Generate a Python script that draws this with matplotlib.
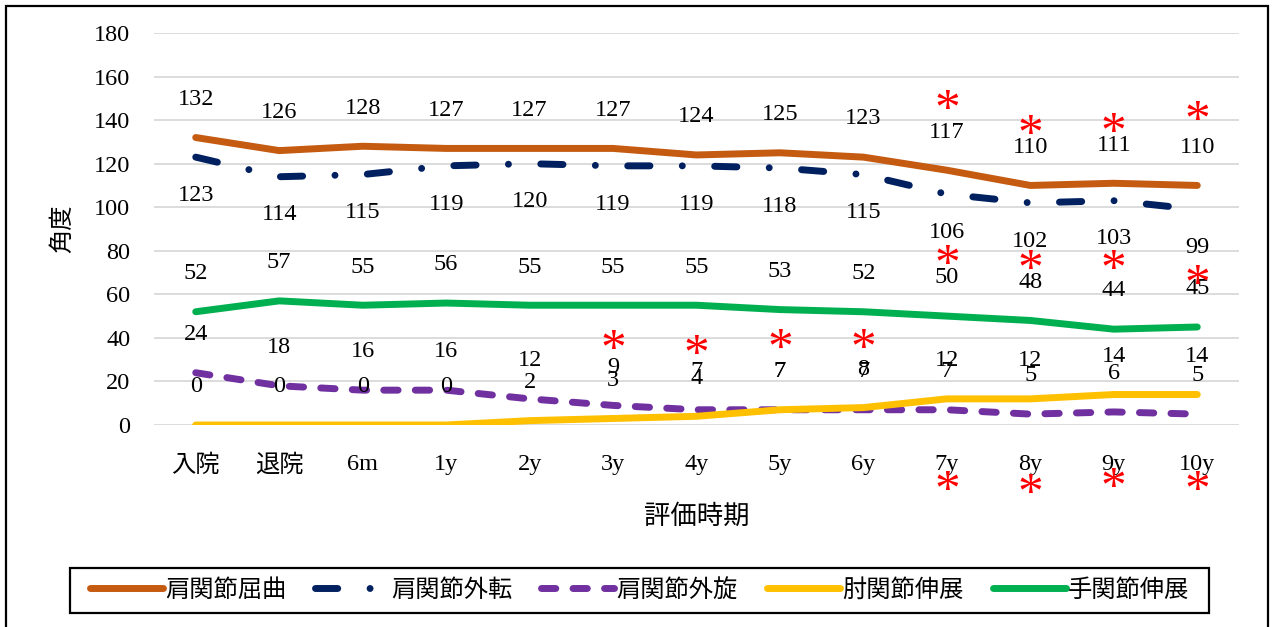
import matplotlib
matplotlib.use("Agg")
import matplotlib.pyplot as plt
from matplotlib.patches import Rectangle

plt.rcParams["font.family"] = ["Liberation Serif", "Noto Sans CJK JP"]
plt.rcParams["lines.scale_dashes"] = False

# Evaluation periods and range-of-motion values (degrees)
periods = ["入院", "退院", "6m", "1y", "2y", "3y", "4y", "5y", "6y", "7y", "8y", "9y", "10y"]
shoulder_flexion = [132, 126, 128, 127, 127, 127, 124, 125, 123, 117, 110, 111, 110]
shoulder_abduction = [123, 114, 115, 119, 120, 119, 119, 118, 115, 106, 102, 103, 99]
shoulder_ext_rotation = [24, 18, 16, 16, 12, 9, 7, 7, 7, 7, 5, 6, 5]
elbow_extension = [0, 0, 0, 0, 2, 3, 4, 7, 8, 12, 12, 14, 14]
wrist_extension = [52, 57, 55, 56, 55, 55, 55, 53, 52, 50, 48, 44, 45]

series_names = ["肩関節屈曲", "肩関節外転", "肩関節外旋", "肘関節伸展", "手関節伸展"]

# Periods flagged with a significance asterisk
sig_flexion = ["7y", "8y", "9y", "10y"]
sig_wrist = ["7y", "8y", "9y", "10y"]
sig_ext_rotation = ["3y", "4y", "5y", "6y"]
sig_axis = ["7y", "8y", "9y", "10y"]

W, H = 1273, 627
fig = plt.figure(figsize=(W / 100, H / 100), dpi=100)
ax = fig.add_axes([154 / W, 1 - 425 / H, (1239 - 154) / W, (425 - 33) / H])

x = list(range(len(periods)))
lw = 5.0
styles = [
    dict(color="#C55A11", solid_capstyle="round"),
    dict(color="#002060", dashes=(16, 23.3, 0.01, 23.3), dash_capstyle="round"),
    dict(color="#7030A0", dashes=(10.3, 12.4), dash_capstyle="round"),
    dict(color="#FFC000", solid_capstyle="round"),
    dict(color="#00B050", solid_capstyle="round"),
]
values = [shoulder_flexion, shoulder_abduction, shoulder_ext_rotation,
          elbow_extension, wrist_extension]
label_dirs = [1, -1, 1, 1, 1]

fs = 17.5
for vals, name, st, d in zip(values, series_names, styles, label_dirs):
    ax.plot(x, vals, lw=lw, label=name, solid_joinstyle="round", **st)
    for xi, v in zip(x, vals):
        ax.annotate(str(v), (xi, v), xytext=(0, 27.5 * d), textcoords="offset points",
                    ha="center", va="center", fontsize=fs, color="black")


def star(cat, yv, dy):
    ax.annotate("*", (periods.index(cat), yv), xytext=(0, dy), textcoords="offset points",
                ha="center", va="center", fontsize=37, color="#FF0000",
                annotation_clip=False)


# asterisk offsets from the marked point, in points
for c, dy in zip(sig_flexion, [42.5, 36, 36, 46]):
    star(c, shoulder_flexion[periods.index(c)], dy)
for c, dy in zip(sig_wrist, [36, 35.6, 41.8, 29.5]):
    star(c, wrist_extension[periods.index(c)], dy)
for c, dy in zip(sig_ext_rotation, [39, 39, 43, 43]):
    star(c, shoulder_ext_rotation[periods.index(c)], dy)
for c, dy in zip(sig_axis, [-48, -50.4, -46, -48]):
    star(c, 0, dy)

ax.set_xlim(-0.5, len(periods) - 0.5)
ax.set_ylim(0, 180)
ax.set_yticks(range(0, 181, 20))
ax.set_xticks(x)
ax.set_xticklabels(periods)
ax.tick_params(axis="both", length=0, labelsize=fs)
ax.tick_params(axis="y", pad=17)
ax.tick_params(axis="x", pad=21)
ax.grid(axis="y", color="#D9D9D9", lw=1.3)
ax.set_axisbelow(True)
for s in ax.spines.values():
    s.set_visible(False)

ax.set_ylabel("角度", fontsize=fs, labelpad=14)
ax.set_xlabel("評価時期", fontsize=19, labelpad=20)

fig.legend(loc="center", bbox_to_anchor=((70 + 1209) / 2 / W, 1 - 590.5 / H), ncol=5,
           frameon=False, fontsize=fs, handlelength=3.0, handletextpad=0.1,
           columnspacing=1.2)
fig.patches.append(Rectangle((70 / W, 1 - 613 / H), 1139 / W, 45 / H, fill=False,
                             lw=1.6, ec="black", transform=fig.transFigure))
fig.patches.append(Rectangle((6 / W, -0.05), 1262 / W, 1 - 6 / H + 0.05, fill=False,
                             lw=1.6, ec="black", transform=fig.transFigure))

fig.savefig("out.png", dpi=100)
